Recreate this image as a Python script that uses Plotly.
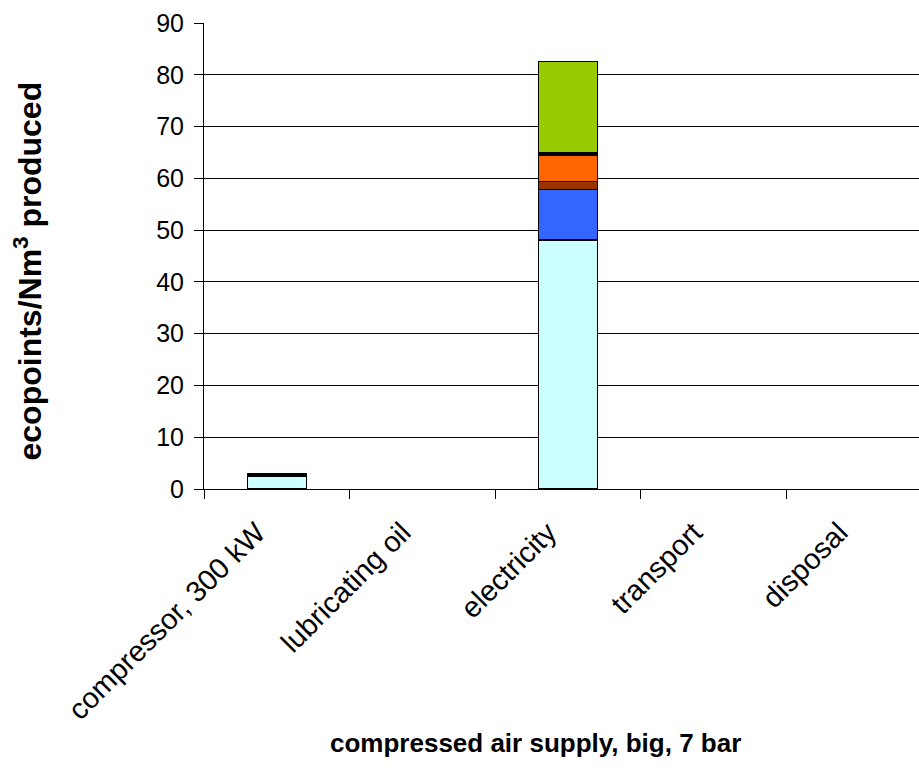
import plotly.graph_objects as go

categories = ["compressor, 300 kW", "lubricating oil", "electricity", "transport", "disposal"]

# stacked contributions per category (ecopoints/Nm3); None = no contribution
seg_cyan = [2.4, None, 48.1, None, None]
seg_blue = [None, None, 9.8, None, None]
seg_brown = [None, None, 1.5, None, None]
seg_orange = [None, None, 5.1, None, None]
seg_black = [0.5, None, 0.5, None, None]
seg_green = [None, None, 17.6, None, None]

series = [
    ("s1", seg_cyan, "#CCFFFF"),
    ("s2", seg_blue, "#3366FF"),
    ("s3", seg_brown, "#993300"),
    ("s4", seg_orange, "#FF6600"),
    ("s5", seg_black, "#000000"),
    ("s6", seg_green, "#99CC00"),
]

y_ticks = list(range(0, 91, 10))

FONT = "Liberation Sans, Arial, sans-serif"

fig = go.Figure()
for name, vals, col in series:
    fig.add_trace(go.Bar(
        x=categories, y=vals, name=name,
        marker=dict(color=col, line=dict(color="black", width=1.2)),
        hoverinfo="skip",
    ))

fig.update_layout(
    barmode="stack",
    bargap=0.595,
    width=919, height=776,
    margin=dict(l=204, r=0, t=23, b=287),
    paper_bgcolor="white",
    plot_bgcolor="white",
    showlegend=False,
    font=dict(family=FONT, size=25, color="black"),
    xaxis=dict(
        type="category",
        range=[-0.5, 4.41],
        tickangle=-45,
        ticks="outside",
        tickson="boundaries",
        ticklen=9,
        tickcolor="black",
        showline=True,
        linecolor="black",
        linewidth=1,
        showgrid=False,
        ticklabelshift=-20,
        ticklabelstandoff=14,
        tickfont=dict(family=FONT, size=29, color="black"),
    ),
    yaxis=dict(
        range=[0, 90],
        tickvals=y_ticks,
        ticks="outside",
        ticklen=9,
        tickcolor="black",
        showline=True,
        linecolor="black",
        linewidth=1,
        showgrid=True,
        gridcolor="black",
        gridwidth=1,
        zeroline=False,
        ticklabelstandoff=5,
        tickfont=dict(family=FONT, size=25, color="black"),
    ),
    annotations=[
        dict(
            text="<b>compressed air supply, big, 7 bar</b>",
            xref="paper", yref="paper", x=0.463, y=-0.545,
            xanchor="center", yanchor="middle", showarrow=False,
            font=dict(family=FONT, size=26, color="black"),
        ),
        dict(
            text="<b>ecopoints/Nm<sup>3</sup> produced</b>",
            xref="paper", yref="paper", x=-0.246, y=0.467,
            xanchor="center", yanchor="middle", showarrow=False,
            textangle=-90,
            font=dict(family=FONT, size=32, color="black"),
        ),
    ],
)

fig.write_html("out.html")
